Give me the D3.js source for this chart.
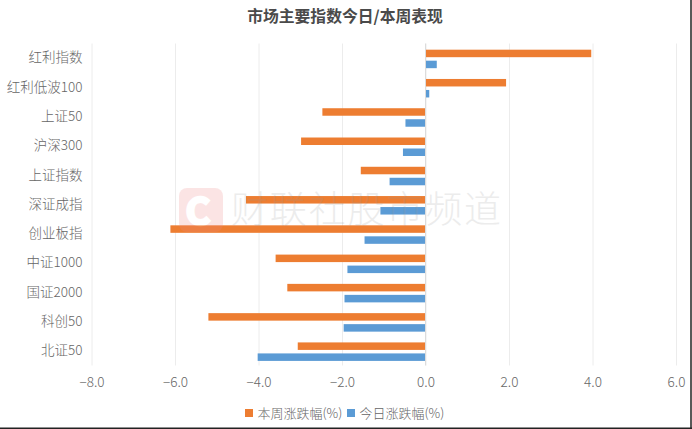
<!doctype html>
<html>
<head>
<meta charset="utf-8">
<script src="https://d3js.org/d3.v7.min.js"></script>
<style>
  html, body { margin: 0; padding: 0; background: #fff; }
  svg { display: block; }
  text { font-family: "Noto Sans CJK SC", "Noto Sans", sans-serif; }
  .grid line { stroke: #ececec; }
  .grid path { stroke: none; }
  .tick text { fill: #666; font-size: 13.5px; font-weight: 300; }
</style>
</head>
<body>
<svg id="chart" width="692" height="429"></svg>
<script>
const categories = ["红利指数", "红利低波100", "上证50", "沪深300", "上证指数", "深证成指", "创业板指", "中证1000", "国证2000", "科创50", "北证50"];
const weekValues = [3.97, 1.93, -2.47, -2.98, -1.55, -4.30, -6.11, -3.59, -3.31, -5.20, -3.06];
const todayValues = [0.27, 0.09, -0.48, -0.54, -0.86, -1.08, -1.46, -1.87, -1.94, -1.96, -4.02];
const xTicks = [-8, -6, -4, -2, 0, 2, 4, 6];
const seriesNames = ["本周涨跌幅(%)", "今日涨跌幅(%)"];
const seriesColors = ["#ed7d31", "#5b9bd5"];

const svg = d3.select("#chart");
const x = d3.scaleLinear().domain([-8, 6]).range([91.5, 676]);
const y = d3.scaleBand().domain(categories).range([43.5, 365.5]);
const series = d3.scaleBand().domain(seriesNames).range([0, y.bandwidth()]).paddingInner(0.318).paddingOuter(0.49);

svg.append("g").attr("class", "grid")
  .attr("transform", "translate(0,365.5)")
  .call(d3.axisBottom(x).tickValues(xTicks).tickSize(-322).tickFormat(""))
  .call(g => g.selectAll("text").remove());

svg.append("text").attr("x", 345).attr("y", 22).attr("text-anchor", "middle")
  .attr("font-size", 15.8).attr("font-weight", 700).attr("fill", "#4a4a4a")
  .text("市场主要指数今日/本周表现");

[weekValues, todayValues].forEach((values, k) => {
  svg.append("g").selectAll("rect").data(values).enter().append("rect")
    .attr("x", d => x(Math.min(0, d)))
    .attr("y", (d, i) => y(categories[i]) + series(seriesNames[k]) + 0.8)
    .attr("width", d => Math.abs(x(d) - x(0)))
    .attr("height", series.bandwidth())
    .attr("fill", seriesColors[k]);
});

// zero line sits over the bars
svg.append("line").attr("x1", x(0)).attr("x2", x(0)).attr("y1", 43.5).attr("y2", 365.5).attr("stroke", "#dcdcdc");

svg.append("g").attr("transform", "translate(91.5,0)")
  .call(d3.axisLeft(y).tickSize(0).tickPadding(9))
  .call(g => g.select(".domain").remove());

svg.append("g").attr("transform", "translate(0,365.5)")
  .call(d3.axisBottom(x).tickValues(xTicks).tickSize(0).tickPadding(12).tickFormat(d3.format(".1f")))
  .call(g => g.select(".domain").remove());

const legendX = [245, 347];
seriesNames.forEach((name, k) => {
  svg.append("rect").attr("x", legendX[k]).attr("y", 409).attr("width", 8).attr("height", 8).attr("fill", seriesColors[k]);
  svg.append("text").attr("x", legendX[k] + 12.5).attr("y", 418)
    .attr("font-size", 13).attr("font-weight", 300).attr("fill", "#666").text(name);
});

// watermark lies faintly over the bars
const logo = svg.append("g").attr("opacity", 0.22);
logo.append("rect").attr("x", 179).attr("y", 188).attr("width", 44).attr("height", 44).attr("rx", 8).attr("fill", "#f08a8a");
logo.append("text").attr("x", 198).attr("y", 225).attr("text-anchor", "middle")
  .attr("font-family", "Noto Sans").attr("font-size", 38).attr("font-weight", 700)
  .attr("fill", "#fff").attr("stroke", "#fff").attr("stroke-width", 2.5).text("C");
svg.append("text").attr("x", 231).attr("y", 223).attr("font-size", 37).attr("font-weight", 300)
  .attr("fill", "#999").attr("opacity", 0.18)
  .attr("textLength", 270).text("财联社股市频道");

// screenshot frame on the right and bottom edges
svg.append("line").attr("x1", 691).attr("x2", 691).attr("y1", 0).attr("y2", 429).attr("stroke", "#222").attr("stroke-width", 1.5);
svg.append("line").attr("x1", 0).attr("x2", 692).attr("y1", 428.2).attr("y2", 428.2).attr("stroke", "#222").attr("stroke-width", 1.5);
</script>
</body>
</html>
